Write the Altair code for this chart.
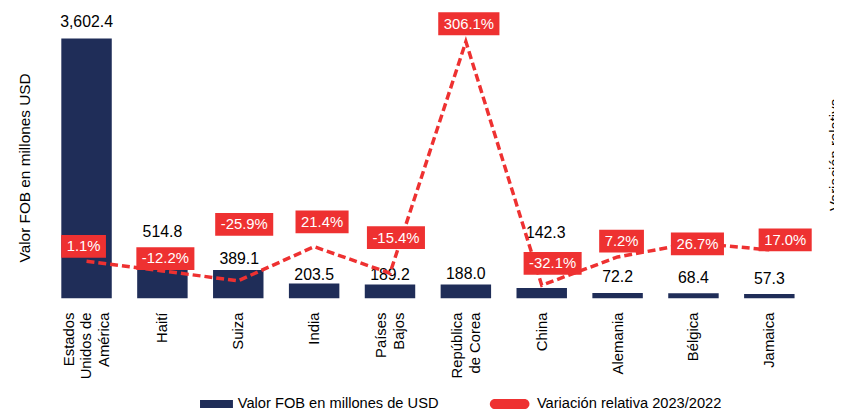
import altair as alt
import pandas as pd

# ---------------- data ----------------
categories = ["Estados Unidos de América", "Haití", "Suiza", "India", "Países Bajos",
              "República de Corea", "China", "Alemania", "Bélgica", "Jamaica"]
tick_labels = [["Estados", "Unidos de", "América"], ["Haití"], ["Suiza"], ["India"],
               ["Países", "Bajos"], ["República", "de Corea"], ["China"], ["Alemania"],
               ["Bélgica"], ["Jamaica"]]
fob_values = [3602.4, 514.8, 389.1, 203.5, 189.2, 188.0, 142.3, 72.2, 68.4, 57.3]
var_values = [1.1, -12.2, -25.9, 21.4, -15.4, 306.1, -32.1, 7.2, 26.7, 17.0]
series_names = ["Valor FOB en millones de USD", "Variación relativa 2023/2022"]

# ---------------- style ----------------
FONT = "Liberation Sans"
NAVY = "#1F2D58"
RED = "#EE3131"
W, H = 766, 291
PAD_IN, PAD_OUT = 0.335, 0.1675
FOB_DOM = [0, 4000]
VAR_DOM = [-50, 350]
fob_px = H / (FOB_DOM[1] - FOB_DOM[0])
var_px = H / (VAR_DOM[1] - VAR_DOM[0])
n = len(categories)
step = W / (n - PAD_IN + 2 * PAD_OUT)
half_band = step * (1 - PAD_IN) / 2
LINE_H = 18

# label placement (pixels): rise above the bar top / line point, horizontal nudge
bar_label_rise = [17, 29, 11, 9, 10, 11, 55, 16, 15, 15]
bar_label_dx = [0, 0, 1, 0, 0, 0, 4, 0, 0, 0]
box_rise = [15, 12.5, 57, 25, 36, 18, 22, 16, -1, 10]
box_dx = [-3, 3, 6, 8, 6, 3, 11, 4, 4, 16]
BOX_H = 23
BOX_PAD = 11


def text_width(s, size=15):
    w = {".": 0.278, "%": 0.889, "-": 0.333, ",": 0.278}
    return sum(w.get(c, 0.556) for c in s) * size


def box_path(s):
    hw = (text_width(s) + BOX_PAD) / 2
    hh = BOX_H / 2
    return f"M{-hw:.1f},{-hh:.1f}H{hw:.1f}V{hh:.1f}H{-hw:.1f}Z"


keys = ["|".join(t) for t in tick_labels]
var_txt = [f"{v:.1f}%" for v in var_values]
df = pd.DataFrame({
    "cat": keys,
    "fob": fob_values,
    "pct": var_values,
    "fob_txt": [f"{v:,.1f}" for v in fob_values],
    "pct_txt": var_txt,
    "fob_lab": [v + r / fob_px for v, r in zip(fob_values, bar_label_rise)],
    "pct_lab": [v + r / var_px for v, r in zip(var_values, box_rise)],
    "bdx": [d + half_band for d in bar_label_dx],
    "pdx": [d + half_band for d in box_dx],
    "box": [box_path(s) for s in var_txt],
    "series": series_names[0],
})

x_enc = alt.X(
    "cat:N", sort=keys, title=None,
    scale=alt.Scale(paddingInner=PAD_IN, paddingOuter=PAD_OUT),
    axis=alt.Axis(labelAngle=270, labelExpr="split(datum.label, '|')",
                  labelOffset={"expr": f"-(length(split(datum.value, '|')) - 1) * {LINE_H / 2}"},
                  labelFont=FONT, labelFontSize=15, labelLineHeight=LINE_H,
                  labelColor="#000000", ticks=False, domain=False, grid=False,
                  labelPadding=14),
)

y_fob_scale = alt.Scale(domain=FOB_DOM, nice=False, zero=True)
y_var_scale = alt.Scale(domain=VAR_DOM, nice=False, zero=False)

fob_axis = alt.Axis(title="Valor FOB en millones USD", labels=False, ticks=False,
                    domain=False, grid=False, titleFont=FONT, titleFontSize=15.5,
                    titleFontWeight="normal", titleColor="#000000",
                    titlePadding=16, titleY=159)
var_axis = alt.Axis(orient="right", title="Variación relativa", labels=False,
                    ticks=False, domain=False, grid=False, titleFont=FONT,
                    titleFontSize=15, titleFontWeight="normal",
                    titleColor="#000000", titleAngle=270, titleBaseline="top",
                    titlePadding=21)

leg_expr = ("datum.value == '" + series_names[0] + "' ? "
            "'M-0.95,-0.23H0.95V0.23H-0.95Z' : "
            "'M-1.196,-0.29H0.51A0.29,0.29 0 0 1 0.51,0.29H-1.196A0.29,0.29 0 0 1 -1.196,-0.29Z'")

bars = alt.Chart(df).mark_bar().encode(
    x=x_enc,
    y=alt.Y("fob:Q", scale=y_fob_scale, axis=fob_axis),
    color=alt.Color("series:N",
                    scale=alt.Scale(domain=series_names, range=[NAVY, RED]),
                    legend=alt.Legend(orient="none", legendX=152, legendY=380,
                                      direction="horizontal", title=None,
                                      labelFont=FONT, labelFontSize=14.8,
                                      labelColor="#000000", labelLimit=400,
                                      symbolSize=1225,
                                      symbolType={"expr": leg_expr},
                                      symbolStrokeWidth=0, labelOffset=4,
                                      columnPadding=51, padding=0)),
)

bar_text = alt.Chart(df).mark_text(font=FONT, fontSize=16, color="#000000",
                                   baseline="middle", align="center").encode(
    x=x_enc,
    xOffset=alt.XOffset("bdx:Q", scale=None),
    y=alt.Y("fob_lab:Q", scale=y_fob_scale, axis=fob_axis),
    text="fob_txt:N",
)

line = alt.Chart(df).mark_line(color=RED, strokeWidth=3.5, strokeDash=[8, 4]).encode(
    x=x_enc,
    y=alt.Y("pct:Q", scale=y_var_scale, axis=var_axis),
)

boxes = alt.Chart(df).mark_point(filled=True, size=4, opacity=1, color=RED,
                                 strokeWidth=0).encode(
    x=x_enc,
    xOffset=alt.XOffset("pdx:Q", scale=None),
    y=alt.Y("pct_lab:Q", scale=y_var_scale, axis=var_axis),
    shape=alt.Shape("box:N", scale=None),
)

box_text = alt.Chart(df).mark_text(font=FONT, fontSize=15, color="#FFFFFF",
                                   baseline="middle", align="center").encode(
    x=x_enc,
    xOffset=alt.XOffset("pdx:Q", scale=None),
    y=alt.Y("pct_lab:Q", scale=y_var_scale, axis=var_axis),
    text="pct_txt:N",
)

left = alt.layer(bars, bar_text)
right = alt.layer(line, boxes, box_text)

chart = alt.layer(left, right).resolve_scale(y="independent").properties(
    width=W, height=H,
    autosize=alt.AutoSizeParams(type="none"),
    padding={"left": 41, "top": 0, "right": 27, "bottom": 115},
    background="white",
).configure_view(stroke=None)

chart.save("out.html", embed_options={"renderer": "svg", "actions": False})
